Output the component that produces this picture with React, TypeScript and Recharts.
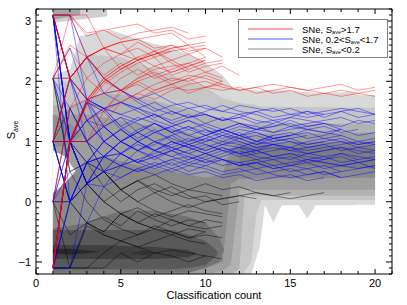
import { ComposedChart, Area, Line, XAxis, YAxis, ReferenceArea, Legend } from "recharts"

// plot box (pixels) used by the hand-drawn inward ticks
const PLOT_W = 356
const PLOT_H = 265
const FONT = "Liberation Sans, Arial, Helvetica, sans-serif"

const xTicks = [0, 1, 2, 3, 4, 5, 6, 7, 8, 9, 10, 11, 12, 13, 14, 15, 16, 17, 18, 19, 20, 21]
const yTicks = Array.from({ length: 45 }, (_, i) => Math.round((-1.2 + i * 0.1) * 10) / 10)

// density contours: [x, low, high], light to dark
const band1 = [[1, -1.2, 2.1], [2, -1.2, 2.2], [2.6, -1.2, 2.75], [4.4, -1.2, 2.85], [6, -1.2, 2.7], [7, -1.2, 2.62], [8, -1.2, 2.55], [9, -1.2, 2.45], [10, -1.2, 2.3], [11, -1.2, 2.1], [11.7, -1.2, 1.87], [12.7, -1.2, 1.85], [13.2, -0.75, 1.85], [13.5, -0.06, 1.85], [14, -0.34, 1.85], [14.5, -0.06, 1.85], [15.5, -0.06, 1.83], [16, -0.28, 1.82], [16.5, -0.06, 1.8], [18.6, -0.06, 1.82], [19, -0.05, 1.77], [20, -0.05, 1.77]]
const top1 = [[1, 2.97, 3.2], [4.2, 3.08, 3.2]]
const top2 = [[1, 3.02, 3.2], [2.6, 3.1, 3.2]]
const band2 = [[1, -1.2, 1.95], [2, -1.2, 2.0], [3, -1.2, 2.45], [5, -1.2, 2.4], [7, -1.2, 2.2], [9, -1.2, 2.0], [10, -1.2, 1.9], [11, -1.2, 1.72], [11.8, -1.2, 1.66], [12.2, -1.2, 1.63], [12.7, -1.0, 1.62], [13, -0.2, 1.6], [13.3, 0.03, 1.58], [20, 0.03, 1.56]]
const band3 = [[1, -1.2, 1.6], [2, -1.2, 1.6], [4, -1.2, 1.8], [6, -1.2, 1.75], [8, -1.2, 1.6], [10, -1.2, 1.45], [11, -1.2, 1.38], [11.6, -1.2, 1.35], [12, -1.1, 1.33], [12.3, 0.1, 1.3], [20, 0.1, 1.3]]
const band4 = [[1, -1.2, 1.45], [3, -1.2, 1.45], [5, -1.2, 1.35], [7, -1.2, 1.25], [9, -1.2, 1.15], [10, -1.2, 1.05], [11, -1.15, 1.05], [11.5, -1.05, 1.08], [12, 0.2, 1.12], [20, 0.2, 1.15]]
const hole = [[1, 0.15, 0.85], [1.7, 0.3, 0.75], [2.3, 0.5, 0.52]]
const band5 = [[1, -1.18, 0.1], [2, -1.18, 0.4], [3, -1.18, 0.7], [4, -1.18, 0.75], [6, -1.18, 0.6], [8, -1.18, 0.5], [10, -1.1, 0.4], [11, -1.0, 0.45], [11.5, 0.3, 0.88], [12, 0.38, 0.98], [20, 0.4, 1.0]]
const band5b = [[1, 0.9, 1.45], [2, 0.95, 1.3], [2.7, 1.1, 1.12]]
const band6 = [[1, -1.18, -0.45], [3, -1.18, -0.35], [5, -1.18, -0.15], [7, -1.18, -0.15], [9, -1.18, -0.25], [10, -1.1, -0.35], [10.8, -1.0, -0.6], [11.1, -0.8, -0.8]]
const band6b = [[12, 0.55, 0.92], [14, 0.6, 0.9], [17, 0.58, 0.92], [20, 0.55, 0.92]]
const band7 = [[1, -1.12, -0.47], [8, -1.12, -0.47], [9, -1.1, -0.55], [10, -1.05, -0.65], [10.7, -0.88, -0.82]]
const band8 = [[1, -0.95, -0.72], [4, -0.95, -0.72], [7, -0.95, -0.75], [9, -0.92, -0.8], [9.5, -0.86, -0.86]]
const band9 = [[1, -0.86, -0.79], [2, -0.88, -0.78], [3.8, -0.83, -0.83]]
const band9b = [[5.6, -0.85, -0.85], [6.3, -0.89, -0.81], [7, -0.85, -0.85]]

const bands = [
  { d: band1, c: "#d9d9d9" }, { d: top1, c: "#cfcfcf" }, { d: top2, c: "#a5a5a5" },
  { d: band2, c: "#c6c6c6" }, { d: band3, c: "#b2b2b2" }, { d: band4, c: "#9e9e9e" },
  { d: hole, c: "#ffffff" }, { d: band5, c: "#8a8a8a" }, { d: band5b, c: "#8e8e8e" },
  { d: band6, c: "#737373" }, { d: band6b, c: "#7c7c7c" }, { d: band7, c: "#595959" },
  { d: band8, c: "#404040" }, { d: band9, c: "#282828" }, { d: band9b, c: "#303030" },
]

// running S_ave per supernova, starting at classification 1
const redLines = [
  [3.1, 3.1, 2.8, 2.85, 2.9, 2.95, 2.8, 2.85, 2.7, 2.75],
  [3.1, 2.05, 2.4, 2.55, 2.65, 2.7, 2.55, 2.6, 2.5, 2.55],
  [-1.1, 1.0, 1.65, 2.0, 2.2, 2.35, 2.45, 2.5, 2.55, 2.6],
  [-1.1, 1.0, 1.6, 1.95, 2.15, 2.3, 2.4, 2.1, 2.2, 2.3, 2.35],
  [1.0, 2.05, 2.4, 2.1, 2.3, 2.1, 2.25, 2.35, 2.2],
  [3.1, 2.05, 1.7, 2.0, 2.2, 2.35, 2.1, 2.2, 2.3, 2.4],
  [2.05, 2.6, 2.4, 2.55, 2.65, 2.7, 2.75, 2.8, 2.6],
  [-1.1, 1.0, 1.0, 1.3, 1.65, 1.8, 1.95, 2.05, 2.0, 2.1, 2.0],
  [1.0, 1.0, 1.7, 2.05, 1.85, 2.0, 2.1, 1.95, 2.05, 1.9, 1.95],
  [3.1, 3.1, 3.1, 2.55, 2.65, 2.35, 2.45, 2.55, 2.6, 2.4],
  [0.0, 1.55, 2.05, 1.8, 1.85, 1.95, 1.8, 1.9, 1.85, 1.9, 1.85, 1.9, 1.8, 1.85, 1.9, 1.85, 1.8, 1.75, 1.8, 1.85],
  [2.05, 2.05, 2.4, 2.05, 2.25, 2.4, 2.5, 2.35, 2.45, 2.3],
  [-1.1, 1.0, 1.0, 1.5, 1.85, 2.05, 2.2, 2.25, 2.3, 2.15, 2.25, 2.1],
  [1.0, 2.05, 2.4, 2.55, 2.2, 2.35, 2.45, 2.55, 2.6, 2.65],
  [3.1, 2.05, 2.4, 2.05, 1.85, 2.05, 2.15, 2.0, 2.1, 2.05, 1.95, 1.85, 1.9, 1.95, 1.9, 1.85, 1.9, 1.95, 1.85, 1.9],
  [2.05, 2.55, 2.05, 2.3, 2.45, 2.55, 2.4, 2.5],
  [3.1, 3.1, 2.4, 2.55, 2.45, 2.65, 2.5, 2.6, 2.45, 2.55, 2.4],
  [-1.1, 1.0, 1.65, 1.5, 1.8, 2.0, 1.85, 1.95, 2.05, 2.15, 2.05],
  [1.0, 2.05, 1.7, 1.8, 2.05, 2.2, 2.05, 2.15, 2.25, 2.35],
  [3.1, 2.05, 2.4, 2.55, 2.45, 2.35, 2.5, 2.3, 2.15, 2.25, 2.3],
  [2.05, 3.1, 2.75, 2.85, 2.7, 2.8, 2.85, 2.9, 2.8],
  [-1.1, 1.0, 1.65, 2.0, 1.85, 1.7, 1.85, 1.95, 1.8, 1.9, 2.0],
  [0.0, 1.55, 1.7, 2.05, 2.25, 2.4, 2.25, 2.15, 2.25, 2.35],
  [1.0, 1.0, 1.35, 1.5, 1.65, 1.8, 1.7, 1.85, 1.95, 2.0, 1.9, 1.85, 1.9, 1.8, 1.85, 1.75, 1.8, 1.85, 1.8, 1.75],
]

const blueLines = [
  [3.1, 1.0, 1.65, 1.25, 1.0, 1.15, 1.3, 1.15, 1.25, 1.1, 1.2, 1.1, 1.15, 1.05, 1.1, 1.15, 1.05, 1.1, 1.0, 1.05],
  [3.1, 1.0, 0.3, 0.75, 1.0, 0.85, 1.0, 1.1, 0.95, 1.05, 0.95, 1.0, 0.9, 0.95, 1.0, 0.9, 0.95, 0.85, 0.9, 0.95],
  [-1.1, 1.0, 1.65, 1.0, 1.2, 1.35, 1.45, 1.3, 1.4, 1.45, 1.35, 1.4, 1.3, 1.35, 1.25, 1.3, 1.35, 1.4, 1.3, 1.35],
  [1.0, 1.0, 0.3, 0.5, 0.6, 0.7, 0.6, 0.7, 0.75, 0.65, 0.7, 0.6, 0.65, 0.7, 0.6, 0.55, 0.6, 0.5, 0.55, 0.6],
  [3.1, 2.05, 1.35, 1.0, 1.2, 1.0, 0.85, 1.0, 0.9, 0.8, 0.9, 0.8, 0.85, 0.75, 0.8, 0.75, 0.7, 0.8, 0.75, 0.7],
  [0.0, 1.55, 1.0, 1.25, 1.4, 1.15, 1.3, 1.15, 1.25, 1.15, 1.2, 1.3, 1.2, 1.25, 1.3, 1.2, 1.25, 1.15, 1.2],
  [-1.1, -1.1, 0.3, 0.5, 0.6, 0.85, 1.0, 0.85, 0.95, 0.85, 0.95, 1.05, 0.95, 1.0, 1.05, 0.95, 1.0],
  [3.1, 3.1, 1.7, 1.55, 1.45, 1.55, 1.4, 1.5, 1.4, 1.45, 1.35, 1.4, 1.5, 1.4, 1.45, 1.5, 1.4, 1.5, 1.55, 1.45],
  [2.05, 1.0, 1.35, 1.55, 1.25, 1.05, 1.2, 1.0, 0.9, 1.0, 1.1, 1.0, 0.9, 0.95, 0.85, 0.9, 0.95, 1.0, 0.9, 0.85],
  [1.0, 0.0, 0.65, 0.5, 0.8, 0.65, 0.55, 0.65, 0.5, 0.6, 0.5, 0.55, 0.45, 0.5, 0.55, 0.45, 0.5, 0.4, 0.45, 0.5],
  [-1.1, 0.95, 1.65, 1.5, 1.2, 1.0, 1.15, 1.25, 1.1, 1.2, 1.05, 1.15, 1.0, 1.1],
  [3.1, 1.0, 1.0, 0.5, 0.8, 1.0, 0.85, 0.75, 0.85, 0.95, 0.85, 0.75, 0.8],
  [0.0, 0.0, 0.65, 1.0, 0.8, 0.65, 0.85, 1.0, 0.9, 0.8, 0.9, 0.8, 0.85, 0.75, 0.7, 0.8, 0.75, 0.65, 0.7, 0.75],
  [2.05, 2.55, 1.7, 1.55, 1.65, 1.55, 1.45, 1.35, 1.45, 1.3, 1.2, 1.3, 1.25, 1.15, 1.2, 1.25, 1.3, 1.2],
  [1.0, 2.05, 1.7, 1.25, 1.0, 1.2, 1.3, 1.15, 1.0, 1.1, 1.2, 1.1, 1.0, 1.05, 1.1],
  [-1.1, 0.0, 0.3, 0.5, 0.4, 0.55, 0.65, 0.55, 0.45, 0.5, 0.4, 0.45, 0.35, 0.4, 0.45, 0.35, 0.4],
  [3.1, 2.05, 1.7, 1.8, 1.85, 1.65, 1.5, 1.6, 1.65, 1.55, 1.5, 1.6, 1.55, 1.5, 1.55, 1.45, 1.5, 1.55, 1.5, 1.45],
  [0.0, 1.0, 0.65, 0.75, 1.0, 1.15, 1.0, 0.9, 1.0, 1.1, 1.2, 1.1, 1.0, 1.1, 1.15, 1.05, 1.1, 1.2, 1.1, 1.15],
  [1.0, 0.0, 0.3, 0.25, 0.4, 0.55, 0.45, 0.55, 0.65, 0.6, 0.7, 0.6, 0.65, 0.55, 0.6, 0.7, 0.65, 0.6, 0.55, 0.6],
  [3.1, 1.0, 1.0, 1.25, 1.4, 1.3, 1.15, 1.25, 1.35, 1.25, 1.15, 1.25, 1.2, 1.3],
  [2.05, 1.0, 0.3, 0.75, 0.8, 0.95, 0.85, 0.95, 1.05, 0.95, 0.85, 0.9, 0.8, 0.85, 0.9, 0.8, 0.85, 0.9, 0.8, 0.85],
  [-1.1, 1.0, 0.3, 0.75, 1.0, 0.85, 0.7, 0.85, 0.75, 0.65, 0.75, 0.85, 0.75, 0.7, 0.75, 0.65, 0.7, 0.75, 0.65, 0.7],
  [1.0, 1.0, 1.7, 1.55, 1.45, 1.35, 1.45, 1.3, 1.2, 1.3, 1.4, 1.3, 1.2, 1.25, 1.35, 1.25, 1.3],
  [3.1, 0.0, 0.65, 1.0, 0.8, 0.65, 0.75, 0.6, 0.7, 0.8, 0.7, 0.6, 0.65, 0.55, 0.6, 0.65, 0.55, 0.6, 0.65, 0.55],
  [3.1, 2.05, 1.0, 0.75, 0.6, 0.7, 0.8, 0.9, 0.8, 0.7, 0.8, 0.9, 0.85, 0.95, 0.9, 0.85, 0.9, 0.95, 1.0, 0.95],
  [1.0, 2.05, 2.4, 2.05, 1.85, 1.7, 1.55, 1.45, 1.55, 1.45, 1.35, 1.45, 1.35, 1.3, 1.4, 1.35, 1.3, 1.25, 1.35, 1.3],
  [-1.1, 1.0, 1.0, 0.75, 0.8, 0.65, 0.75, 0.85, 0.95, 0.85, 0.95, 0.9, 1.0, 0.95, 0.9, 1.0, 1.05, 1.0, 0.95, 1.0],
  [2.05, 2.05, 1.35, 1.25, 1.0, 1.15, 1.0, 0.9, 0.8, 0.9, 1.0, 0.95, 0.85, 0.9, 0.85, 0.8, 0.85, 0.9, 0.85, 0.8],
  [3.1, 3.1, 2.4, 2.05, 1.85, 1.7, 1.8, 1.65, 1.55, 1.6, 1.5, 1.45, 1.5, 1.55, 1.45, 1.4, 1.45, 1.5, 1.4, 1.45],
  [0.0, 0.5, 0.65, 0.75, 0.6, 0.5, 0.6, 0.7, 0.6, 0.55, 0.45, 0.5, 0.55, 0.45, 0.4, 0.45, 0.5, 0.4],
  [1.0, 1.0, 1.35, 1.55, 1.65, 1.5, 1.35, 1.25, 1.35, 1.2, 1.1, 1.2, 1.15, 1.05, 1.1, 1.2, 1.15, 1.1],
  [3.1, 1.0, 1.65, 1.55, 1.25, 1.4, 1.3, 1.2, 1.1, 1.0, 1.1, 1.05, 0.95, 1.05, 1.0, 0.95, 1.0, 1.05, 0.95, 1.0],
  [-1.1, 0.0, 0.65, 1.0, 1.2, 1.0, 1.15, 1.05, 0.95, 1.05, 1.15, 1.05, 1.1, 1.0, 1.05, 1.1],
  [2.05, 1.55, 1.0, 1.25, 1.0, 0.85, 0.75, 0.85, 0.7, 0.8, 0.7, 0.65, 0.7, 0.6, 0.65, 0.7, 0.65, 0.6, 0.65, 0.7],
  [1.0, 0.0, 0.65, 0.75, 1.0, 0.85, 0.95, 1.1, 1.2, 1.1, 1.0, 1.1, 1.2, 1.15, 1.25, 1.2, 1.15, 1.2],
  [3.1, 2.05, 2.4, 1.8, 1.65, 1.55, 1.65, 1.5, 1.4, 1.5, 1.6, 1.5, 1.45, 1.35, 1.4, 1.5, 1.45],
  [0.0, 1.0, 1.35, 1.0, 0.8, 1.0, 0.85, 0.75, 0.65, 0.75, 0.85, 0.8, 0.7, 0.75, 0.8, 0.7, 0.75, 0.8, 0.7],
  [-1.1, -1.1, -0.35, 0.25, 0.6, 0.5, 0.6, 0.5, 0.6, 0.7, 0.6, 0.65, 0.55, 0.6, 0.5, 0.55, 0.45, 0.5],
]

const blackLines = [
  [-1.1, -1.1, -1.1, -0.85, -0.65, -0.75, -0.85, -0.8, -0.85, -0.9],
  [3.1, 1.0, 0.3, 0.0, -0.2, -0.35, -0.2, -0.3, -0.4, -0.3, -0.35],
  [1.0, 0.0, 0.3, 0.5, 0.2, 0.0, 0.15, 0.0, -0.1, 0.0, 0.05, 0.1, 0.15, 0.1, 0.05, 0.1, 0.15],
  [-1.1, 1.0, 0.3, 0.5, 0.2, 0.35, 0.2, 0.1, 0.2, 0.15, 0.1],
  [0.0, -1.1, -0.4, -0.55, -0.65, -0.55, -0.45, -0.5, -0.6, -0.5],
  [2.05, 0.5, 0.0, -0.3, -0.45, -0.55, -0.4, -0.5, -0.6, -0.55, -0.6],
  [1.0, 1.0, 0.3, 0.0, 0.2, 0.35, 0.45, 0.3, 0.2, 0.3, 0.2, 0.25, 0.15, 0.1, 0.15],
  [-1.1, 0.0, 0.3, 0.0, -0.2, -0.1, -0.25, -0.15, -0.05, -0.15, -0.2],
  [0.0, 0.0, -0.35, -0.25, -0.4, -0.15, -0.3, -0.4, -0.3, -0.35],
  [1.0, 1.55, 1.0, 0.5, 0.2, 0.35, 0.15, 0.25, 0.1, 0.0, 0.05, 0.1, 0.05],
  [-1.1, -1.1, -1.1, -1.1, -0.85, -1.0, -0.85, -0.9, -1.0, -0.9, -0.95],
  [2.05, 0.5, 0.65, 0.25, 0.0, 0.2, 0.3, 0.15, 0.05, 0.1, -0.05, 0.0],
  [0.0, -0.55, -0.35, -0.5, -0.2, -0.35, -0.45, -0.55, -0.45, -0.5],
  [3.1, 1.0, 0.65, 0.5, 0.2, 0.0, -0.15, -0.25, -0.15, -0.2, -0.25],
  [-1.1, -1.1, -0.35, -0.55, -0.65, -0.75, -0.65, -0.55, -0.65, -0.7],
  [1.0, 0.0, -0.35, -0.5, -0.2, -0.35, -0.45, -0.3, -0.4, -0.45, -0.4],
]

const toBand = (rows: number[][]) => rows.map(([x, lo, hi]) => ({ x, v: [lo, hi] }))
const toLine = (ys: number[]) => ys.map((y, i) => ({ x: i + 1, y }))

const XTick = (props: any) => {
  const { x, y, payload } = props
  const v = payload.value
  const major = v % 5 === 0
  const len = major ? 5 : 3
  return (
    <g>
      <line x1={x} x2={x} y1={y} y2={y - len} stroke="#000" />
      <line x1={x} x2={x} y1={y - PLOT_H} y2={y - PLOT_H + len} stroke="#000" />
      {major && (
        <text x={x} y={y + 13} textAnchor="middle" fontSize={11} fontFamily={FONT} fill="#000">
          {v}
        </text>
      )}
    </g>
  )
}

const YTick = (props: any) => {
  const { x, y, payload } = props
  const v = payload.value
  const major = Number.isInteger(v)
  const len = major ? 6 : 3
  return (
    <g>
      <line x1={x} x2={x + len} y1={y} y2={y} stroke="#000" />
      <line x1={x + PLOT_W - len} x2={x + PLOT_W} y1={y} y2={y} stroke="#000" />
      {major && (
        <text x={x - 5} y={y + 4} textAnchor="end" fontSize={11} fontFamily={FONT} fill="#000">
          {v < 0 ? `\u2212${-v}` : v}
        </text>
      )}
    </g>
  )
}

const legendRows = [
  { color: "#ff4a4a", pre: "SNe, S", post: ">1.7" },
  { color: "#5a5aff", pre: "SNe, 0.2<S", post: "<1.7" },
  { color: "#8c8c8c", pre: "SNe, S", post: "<0.2" },
]

const LegendBox = () => (
  <svg width={150} height={39} style={{ display: "block" }}>
    <rect x={0.5} y={0.5} width={149} height={38} fill="#fff" stroke="#808080" />
    {legendRows.map((r, i) => (
      <g key={i}>
        <line x1={10} x2={55} y1={10 + i * 10} y2={10 + i * 10} stroke={r.color} strokeWidth={1.2} />
        <text x={64} y={13.5 + i * 10} fontSize={9.5} fontFamily={FONT} fill="#000">
          {r.pre}
          <tspan fontSize={5.5} dy={1.5}>ave</tspan>
          <tspan dy={-1.5}>{r.post}</tspan>
        </text>
      </g>
    ))}
  </svg>
)

export default function App() {
  return (
    <div style={{ position: "absolute", left: 0, top: 0, width: 407, height: 305, background: "#fff" }}>
      <ComposedChart width={407} height={305} margin={{ top: 9, right: 15, bottom: 0, left: 0 }}>
        {bands.map((b, i) => (
          <Area
            key={`b${i}`}
            data={toBand(b.d)}
            dataKey="v"
            type="linear"
            stroke="none"
            fill={b.c}
            fillOpacity={1}
            dot={false}
            activeDot={false}
            isAnimationActive={false}
          />
        ))}
        {blackLines.map((l, i) => (
          <Line key={`k${i}`} data={toLine(l)} dataKey="y" type="linear" stroke="#000" strokeOpacity={0.55}
            strokeWidth={0.8} dot={false} activeDot={false} isAnimationActive={false} />
        ))}
        {blueLines.map((l, i) => (
          <Line key={`u${i}`} data={toLine(l)} dataKey="y" type="linear" stroke="#0000ff" strokeOpacity={0.55}
            strokeWidth={0.8} dot={false} activeDot={false} isAnimationActive={false} />
        ))}
        {redLines.map((l, i) => (
          <Line key={`r${i}`} data={toLine(l)} dataKey="y" type="linear" stroke="#ff0000" strokeOpacity={0.5}
            strokeWidth={0.8} dot={false} activeDot={false} isAnimationActive={false} />
        ))}
        <ReferenceArea x1={0} x2={21} y1={-1.2} y2={3.2} fill="none" stroke="#000" strokeWidth={1} ifOverflow="visible" />
        <XAxis
          dataKey="x"
          type="number"
          domain={[0, 21]}
          ticks={xTicks}
          interval={0}
          height={31}
          tickSize={0}
          tickMargin={0}
          tickLine={false}
          axisLine={false}
          tick={<XTick />}
          allowDataOverflow
          label={{ value: "Classification count", position: "insideBottom", offset: 6, fontSize: 11, fontFamily: FONT, fill: "#000" }}
        />
        <YAxis
          type="number"
          domain={[-1.2, 3.2]}
          ticks={yTicks}
          interval={0}
          width={36}
          tickSize={0}
          tickMargin={0}
          tickLine={false}
          axisLine={false}
          tick={<YTick />}
          allowDataOverflow
        />
        <Legend
          layout="horizontal"
          verticalAlign="middle"
          align="center"
          content={() => <LegendBox />}
          wrapperStyle={{ left: 238, top: 19, width: 150, height: 39 }}
        />
      </ComposedChart>
      <svg width={30} height={305} style={{ position: "absolute", left: 0, top: 0 }}>
        <text x={15} y={130} transform="rotate(-90 15 130)" textAnchor="middle" fontSize={11} fontFamily={FONT} fill="#000">
          S<tspan fontSize={7} dy={3}>ave</tspan>
        </text>
      </svg>
    </div>
  )
}
